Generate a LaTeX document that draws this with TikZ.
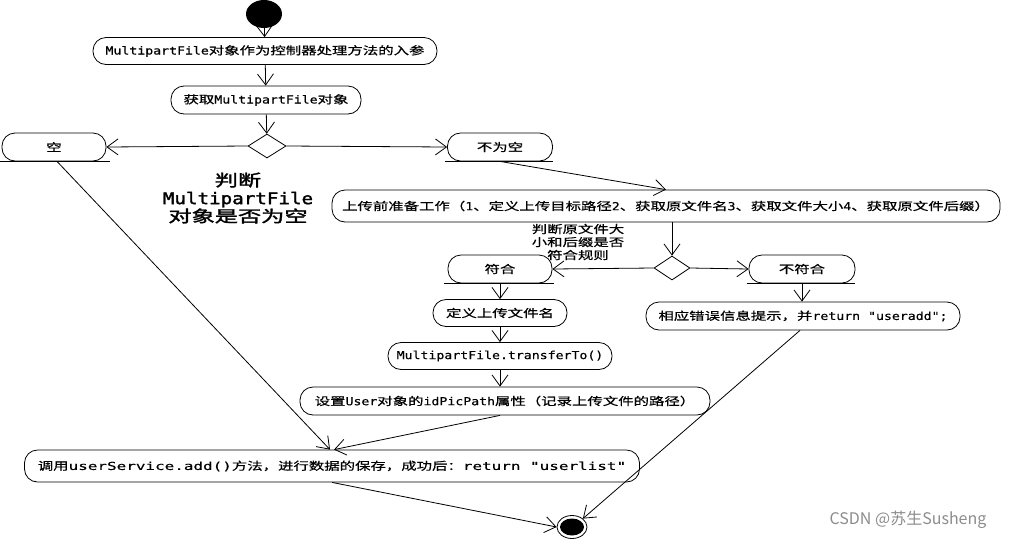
\documentclass[tikz,border=0pt]{standalone}
\usepackage{fontspec}
\setmainfont{Noto Sans CJK SC}[FakeStretch=1.4,FakeBold=0.6]
\newfontfamily\monof{DejaVu Sans Mono}[FakeStretch=1.2,FakeBold=0.4]
\newfontfamily\widemono{DejaVu Sans Mono}[FakeStretch=1.45,FakeBold=0.4]
\newfontfamily\bigf{Noto Sans CJK SC}[FakeStretch=1.45,FakeBold=2]
\newfontfamily\bigmono{DejaVu Sans Mono}[FakeStretch=1.2,FakeBold=2]
\newfontfamily\wmf{Noto Sans CJK SC}
\newcommand\en[1]{{\monof #1}}
\newcommand\wen[1]{{\widemono #1}}
\usetikzlibrary{arrows.meta,shapes.geometric}
\tikzset{
  act/.style={draw, line width=0.8pt, rounded corners=13pt, minimum height=28pt, inner sep=0pt,
    font=\fontsize{11}{13}\selectfont},
  dec/.style={draw, line width=0.8pt, diamond, aspect=1.6, minimum width=38pt, minimum height=24pt, inner sep=0pt},
  flow/.style={line width=0.8pt, -{Straight Barb[length=11pt,width=16pt,line width=0.8pt]}},
  uline/.style={line width=0.8pt},
  lbl/.style={align=center, inner sep=0pt}
}
\begin{document}
\begin{tikzpicture}[x=1pt,y=-1pt]
\useasboundingbox (0,0) rectangle (1012,539);
% start / end
\node (start) [ellipse, fill=black, minimum width=36pt, minimum height=28pt, inner sep=0pt] at (264,14) {};
\node (endo) [ellipse, draw, line width=0.8pt, minimum width=30pt, minimum height=23pt, inner sep=0pt] at (572,527) {};
\node (endi) [ellipse, fill=black, minimum width=24pt, minimum height=17pt, inner sep=0pt] at (572,527) {};
% activities
\node (n1) [act, minimum width=344pt, minimum height=27pt] at (265,51) {\en{MultipartFile}对象作为控制器处理方法的入参};
\node (n2) [act, minimum width=190pt] at (266,100) {获取\en{MultipartFile}对象};
\node (d1) [dec] at (267,146) {};
\node (empty) [act, minimum width=104pt] at (54,147) {空};
\node (notempty) [act, minimum width=105pt] at (500,147) {不为空};
\node (prep) [act, minimum width=668pt, minimum height=32pt] at (666,206) {上传前准备工作（\en{1}、定义上传目标路径\en{2}、获取原文件名\en{3}、获取文件大小\en{4}、获取原文件后缀）};
\node (d2) [dec, minimum width=36pt] at (672,268) {};
\node (ok) [act, minimum width=104pt] at (500,269) {符合};
\node (notok) [act, minimum width=106pt] at (802,269) {不符合};
\node (defname) [act, minimum width=134pt, minimum height=27pt] at (500,313) {定义上传文件名};
\node (err) [act, minimum width=314pt] at (803,316) {相应错误信息提示，并\en{return "useradd";}};
\node (transfer) [act, minimum width=224pt, minimum height=27pt] at (500,356) {\en{MultipartFile.transferTo()}};
\node (setuser) [act, minimum width=410pt] at (505,401) {设置\en{User}对象的\en{idPicPath}属性（记录上传文件的路径）};
\node (call) [act, minimum width=615pt, minimum height=32pt] at (332,466) {调用\wen{userService.add()}方法，进行数据的保存，成功后：\wen{return "userlist"}};
% labels
\node (lab1) [lbl, font=\bigf\fontsize{16}{18}\selectfont] at (238,198) {判断\\{\bigmono MultipartFile}\\对象是否为空};
\node (lab2) [lbl, font=\fontsize{11}{13}\selectfont] at (578,242) {判断原文件大\\小和后缀是否\\符合规则};
\node (wm) [inner sep=0pt, text=black!45, font=\wmf\fontsize{16}{18}\selectfont] at (908,520) {CSDN @苏生Susheng};
% underlines
\draw[uline] ([xshift=-4pt]empty.south west) -- ([xshift=4pt]empty.south east);
\draw[uline] ([xshift=-2pt]notempty.south west) -- ([xshift=0pt]notempty.south east);
\draw[uline] ([xshift=-4pt]ok.south west) -- ([xshift=2pt]ok.south east);
\draw[uline] ([xshift=-2pt]notok.south west) -- ([xshift=0pt]notok.south east);
% connectors
\draw[flow] (start) -- (n1);
\draw[flow] (n1) -- (n2);
\draw[flow] (n2) -- (d1);
\draw[flow] (d1.west) -- (empty.east);
\draw[flow] (d1.east) -- (notempty.west);
\draw[flow] (notempty.south) -- (prep.north);
\draw[flow] (prep.south -| d2.north) -- (d2.north);
\draw[flow] (d2.west) -- (ok.east);
\draw[flow] (d2.east) -- (notok.west);
\draw[flow] (ok.south) -- (defname.north);
\draw[flow] (notok.south) -- (notok.south |- err.north);
\draw[flow] (defname) -- (transfer);
\draw[flow] (transfer.south) -- (transfer.south |- setuser.north);
\draw[flow] ([xshift=-5pt]setuser.south) -- ([xshift=2pt]call.north);
\draw[flow] ([xshift=3pt]empty.south) -- ([xshift=-2pt]call.north);
\draw[flow] (call.south) -- (endo.west);
\draw[flow] ([xshift=-3pt]err.south) -- (endo.north east);
\end{tikzpicture}
\end{document}
